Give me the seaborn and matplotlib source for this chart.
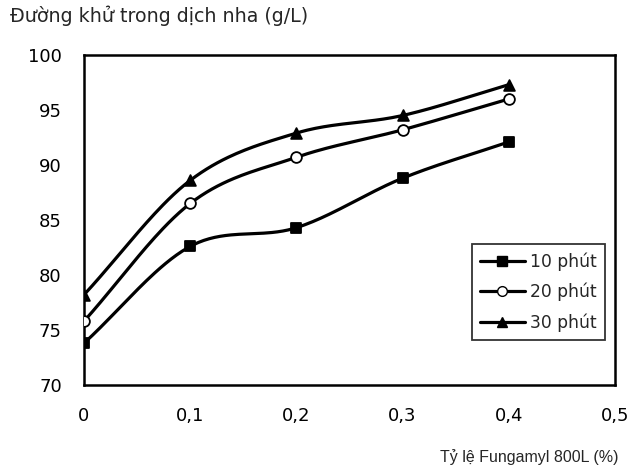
import numpy as np
import pandas as pd
import seaborn as sns
import matplotlib
matplotlib.use("Agg")
import matplotlib.pyplot as plt
from matplotlib.lines import Line2D
from matplotlib.ticker import FuncFormatter, MultipleLocator

# Fungamyl 800L dose (%) and reducing sugar in the wort (g/L)
ty_le = [0.0, 0.1, 0.2, 0.3, 0.4]
duong_10 = [73.8, 82.6, 84.3, 88.8, 92.1]
duong_20 = [75.8, 86.5, 90.7, 93.2, 96.0]
duong_30 = [78.2, 88.6, 92.9, 94.5, 97.3]
nhan = ["10 phút", "20 phút", "30 phút"]
markers = {"10 phút": "s", "20 phút": "o", "30 phút": "^"}
facecolors = {"10 phút": "black", "20 phút": "white", "30 phút": "black"}

df = pd.DataFrame({
    "x": ty_le * 3,
    "y": duong_10 + duong_20 + duong_30,
    "series": [n for n in nhan for _ in ty_le],
})


def smooth(x, y, n=40, tension=0.5):
    """Catmull-Rom curve through the points."""
    x = np.asarray(x, float)
    y = np.asarray(y, float)
    px = np.concatenate([[2 * x[0] - x[1]], x, [2 * x[-1] - x[-2]]])
    py = np.concatenate([[2 * y[0] - y[1]], y, [2 * y[-1] - y[-2]]])
    xs, ys = [], []
    for i in range(1, len(px) - 2):
        t = np.linspace(0, 1, n)
        m1x = tension * (px[i + 1] - px[i - 1])
        m2x = tension * (px[i + 2] - px[i])
        m1y = tension * (py[i + 1] - py[i - 1])
        m2y = tension * (py[i + 2] - py[i])
        h00 = 2 * t**3 - 3 * t**2 + 1
        h10 = t**3 - 2 * t**2 + t
        h01 = -2 * t**3 + 3 * t**2
        h11 = t**3 - t**2
        xs.append(h00 * px[i] + h10 * m1x + h01 * px[i + 1] + h11 * m2x)
        ys.append(h00 * py[i] + h10 * m1y + h01 * py[i + 1] + h11 * m2y)
    return np.concatenate(xs), np.concatenate(ys)


sns.set_theme(style="white")
plt.rcParams["font.family"] = ["DejaVu Sans"]

fig = plt.figure(figsize=(6.33, 4.74), dpi=100)
ax = fig.add_axes([0.1327, 0.1878, 0.8389, 0.6962])

curves = []
for name in nhan:
    sub = df[df["series"] == name]
    sx, sy = smooth(sub["x"], sub["y"])
    curves.append(pd.DataFrame({"x": sx, "y": sy, "series": name}))
curves = pd.concat(curves)

sns.lineplot(data=curves, x="x", y="y", hue="series", palette=["black"] * 3,
             linewidth=2.3, legend=False, ax=ax, sort=False, estimator=None)
for name in nhan:
    sub = df[df["series"] == name]
    sns.scatterplot(x=sub["x"], y=sub["y"], marker=markers[name], s=60,
                    color=facecolors[name], edgecolor="black", linewidth=1.3,
                    ax=ax, zorder=5)

handles = [Line2D([], [], color="black", lw=2.3, marker=markers[n], markersize=7,
                  markerfacecolor=facecolors[n], markeredgecolor="black")
           for n in nhan]
leg = ax.legend(handles, nhan, loc="lower right", bbox_to_anchor=(0.981, 0.136),
                borderaxespad=0.0, frameon=True, fancybox=False, edgecolor="black",
                prop={"family": "DejaVu Sans", "size": 12.3},
                handlelength=2.6, handletextpad=0.3, borderpad=0.5,
                labelspacing=0.7)
leg.get_frame().set_linewidth(1.3)

ax.set_xlim(0, 0.5)
ax.set_ylim(70, 100)
ax.xaxis.set_major_locator(MultipleLocator(0.1))
ax.yaxis.set_major_locator(MultipleLocator(5))
ax.xaxis.set_major_formatter(FuncFormatter(lambda v, p: ("%g" % round(v, 2)).replace(".", ",")))
ax.tick_params(axis="both", direction="out", width=1.2, colors="black", labelsize=13)
ax.tick_params(axis="y", length=8, pad=8)
ax.tick_params(axis="x", length=6, pad=10)
for s in ax.spines.values():
    s.set_color("black")
    s.set_linewidth(1.8)
ax.set_xlabel("")
ax.set_ylabel("")

fig.text(0.016, 0.967, "Đường khử trong dịch nha (g/L)", fontsize=13.7,
         ha="left", va="center")
fig.text(0.977, 0.036, "Tỷ lệ Fungamyl 800L (%)", fontsize=11.5,
         family=["Liberation Sans", "DejaVu Sans"], ha="right", va="center")

fig.savefig("out.png", dpi=100)
